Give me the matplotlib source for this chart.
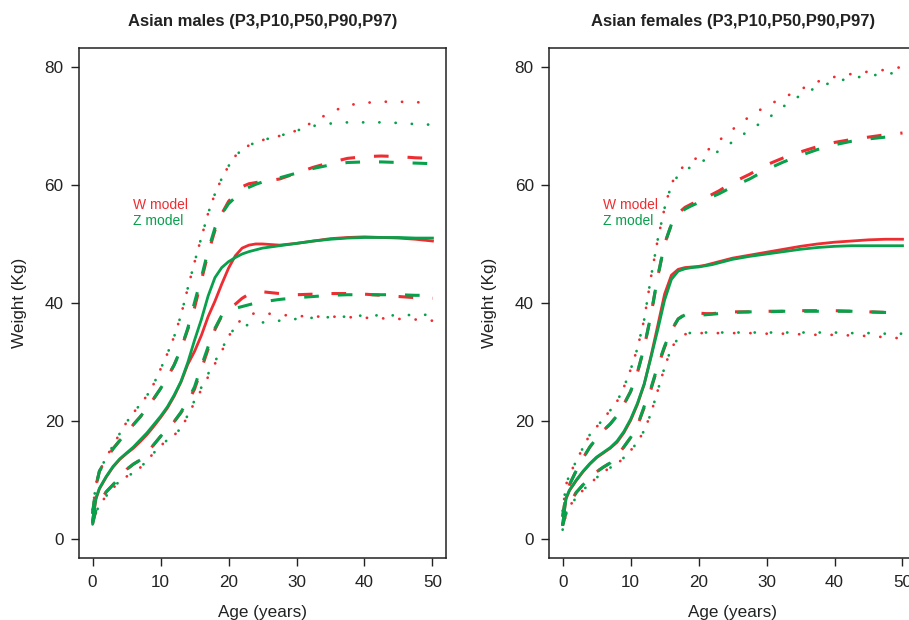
import matplotlib
matplotlib.use("Agg")
import matplotlib.pyplot as plt

plt.rcParams['font.family'] = ['Liberation Sans', 'DejaVu Sans']

ages = [0, 0.5, 1, 2, 3, 4, 5, 6, 7, 8, 9, 10, 11, 12, 13, 14, 15, 16, 17, 18, 19,
        20, 21, 22, 23, 24, 25, 27.5, 30, 32.5, 35, 37.5, 40, 42.5, 45, 47.5, 50]

# ---- Asian males ----
m_w_p3 = [2.5, 4.5, 5.8, 7.3, 8.6, 9.9, 10.6, 11.2, 12.1, 13.3, 14.6, 15.8, 16.8, 17.6, 18.8, 20.8, 23.2, 25.3, 27.5, 29.7, 31.8,
          34.3, 36.2, 37.3, 38.0, 38.3, 38.3, 38.0, 37.8, 37.7, 37.7, 37.6, 37.5, 37.4, 37.3, 37.2, 37.0]
m_z_p3 = [2.5, 4.5, 5.8, 7.3, 8.6, 9.9, 10.6, 11.2, 12.1, 13.3, 14.6, 15.8, 16.8, 17.6, 18.8, 21.0, 23.5, 25.7, 28.0, 30.1, 32.1,
          34.5, 35.8, 36.1, 36.3, 36.6, 36.7, 37.0, 37.3, 37.5, 37.6, 37.7, 37.9, 37.9, 37.9, 38.0, 38.0]
m_w_p10 = [2.6, 5.0, 6.3, 8.0, 9.2, 10.5, 11.8, 12.7, 13.4, 14.6, 16.0, 17.4, 18.7, 19.9, 21.4, 23.2, 25.4, 28.8, 32.2, 35.5, 37.8,
           39.0, 39.8, 40.8, 41.5, 41.8, 41.9, 41.6, 41.4, 41.5, 41.6, 41.6, 41.5, 41.3, 41.1, 40.9, 40.8]
m_z_p10 = [2.6, 5.0, 6.3, 8.0, 9.2, 10.5, 11.8, 12.7, 13.4, 14.6, 16.0, 17.4, 18.7, 19.9, 21.5, 23.5, 25.8, 29.3, 32.6, 35.7, 37.9,
           38.9, 39.1, 39.4, 39.7, 40.0, 40.2, 40.6, 40.9, 41.1, 41.3, 41.4, 41.4, 41.4, 41.4, 41.3, 41.3]
m_w_p50 = [3.0, 6.8, 8.5, 10.5, 12.2, 13.5, 14.5, 15.4, 16.5, 17.7, 19.1, 20.6, 22.2, 24.2, 26.6, 29.6, 31.8, 34.5, 37.7, 40.3, 43.2,
           45.9, 48.0, 49.3, 49.8, 50.0, 50.0, 49.8, 50.1, 50.5, 50.9, 51.1, 51.2, 51.1, 51.0, 50.8, 50.5]
m_z_p50 = [3.3, 7.0, 8.6, 10.6, 12.3, 13.6, 14.6, 15.6, 16.8, 18.0, 19.4, 20.8, 22.4, 24.4, 26.7, 29.9, 33.7, 37.2, 41.2, 44.3, 46.0,
           47.0, 47.7, 48.3, 48.7, 49.0, 49.3, 49.7, 50.1, 50.5, 50.8, 51.0, 51.1, 51.1, 51.1, 51.0, 51.0]
m_w_p90 = [4.3, 9.0, 11.5, 13.5, 15.3, 16.7, 18.0, 19.4, 20.7, 22.2, 23.8, 25.5, 27.4, 29.5, 32.2, 35.5, 39.2, 43.8, 48.4, 52.3, 55.1,
           57.2, 58.5, 59.7, 60.2, 60.4, 60.6, 61.0, 62.0, 63.0, 63.8, 64.5, 64.8, 64.9, 64.8, 64.6, 64.5]
m_z_p90 = [4.3, 9.0, 11.5, 13.5, 15.3, 16.7, 18.0, 19.4, 20.7, 22.2, 23.8, 25.5, 27.4, 29.5, 32.2, 35.7, 40.1, 44.3, 48.9, 52.7, 55.1,
           56.8, 57.9, 59.0, 59.6, 60.1, 60.5, 61.2, 62.0, 62.8, 63.4, 63.8, 63.9, 63.9, 63.8, 63.7, 63.6]
m_w_p97 = [5.0, 9.3, 11.4, 13.9, 15.8, 17.9, 19.8, 21.4, 22.8, 24.3, 26.3, 28.8, 31.4, 34.3, 37.9, 42.5, 46.9, 51.1, 55.2, 58.5, 61.1,
           63.2, 64.9, 66.0, 66.7, 67.2, 67.6, 68.3, 69.2, 70.7, 72.3, 73.5, 73.9, 74.1, 74.1, 74.0, 74.0]
m_z_p97 = [5.0, 9.3, 11.4, 13.9, 15.8, 17.9, 19.8, 21.4, 22.8, 24.3, 26.3, 28.8, 31.4, 34.3, 37.9, 42.5, 46.9, 51.1, 55.2, 58.5, 61.1,
           63.2, 64.9, 66.0, 66.7, 67.2, 67.6, 68.3, 69.2, 70.0, 70.4, 70.6, 70.6, 70.6, 70.5, 70.3, 70.2]

# ---- Asian females ----
f_w_p3 = [1.6, 4.2, 5.6, 7.0, 8.3, 9.4, 10.4, 11.4, 12.1, 12.7, 13.8, 15.0, 16.4, 18.4, 21.3, 25.2, 29.1, 32.4, 34.0, 34.7, 34.9,
          34.9, 34.9, 34.9, 34.9, 34.9, 34.9, 34.9, 34.8, 34.8, 34.7, 34.6, 34.6, 34.5, 34.4, 34.2, 34.0]
f_z_p3 = [1.6, 4.2, 5.6, 7.0, 8.3, 9.4, 10.4, 11.4, 12.1, 12.7, 13.8, 15.0, 16.4, 18.4, 21.3, 25.2, 29.1, 32.4, 34.0, 34.7, 35.0,
          35.0, 35.0, 35.0, 35.0, 35.0, 35.0, 35.0, 35.0, 35.0, 35.0, 35.0, 35.0, 34.9, 34.9, 34.8, 34.8]
f_w_p10 = [2.3, 4.6, 6.0, 7.9, 9.2, 10.3, 11.4, 12.2, 12.9, 14.1, 15.6, 17.2, 19.2, 22.3, 25.4, 29.2, 32.5, 35.3, 37.3, 38.1, 38.3,
           38.3, 38.2, 38.2, 38.3, 38.4, 38.5, 38.5, 38.6, 38.6, 38.7, 38.7, 38.7, 38.6, 38.5, 38.4, 38.3]
f_z_p10 = [2.3, 4.6, 6.0, 7.9, 9.2, 10.3, 11.4, 12.2, 12.9, 14.1, 15.6, 17.2, 19.2, 22.5, 25.6, 29.4, 32.7, 35.4, 37.3, 38.0, 38.2,
           38.0, 38.0, 38.1, 38.2, 38.3, 38.4, 38.5, 38.5, 38.6, 38.6, 38.6, 38.6, 38.6, 38.5, 38.4, 38.3]
f_w_p50 = [2.5, 6.8, 8.2, 9.9, 11.4, 12.7, 13.8, 14.6, 15.4, 16.4, 18.0, 20.1, 22.8, 26.2, 31.0, 36.2, 41.5, 44.7, 45.7, 46.0, 46.1,
           46.2, 46.4, 46.7, 47.0, 47.3, 47.6, 48.1, 48.6, 49.1, 49.6, 50.0, 50.3, 50.5, 50.7, 50.8, 50.8]
f_z_p50 = [2.5, 7.0, 8.3, 10.0, 11.5, 12.8, 13.9, 14.7, 15.5, 16.6, 18.2, 20.3, 23.0, 26.3, 30.8, 35.5, 40.5, 44.0, 45.4, 45.8, 46.0,
           46.1, 46.3, 46.5, 46.8, 47.1, 47.4, 47.9, 48.3, 48.7, 49.1, 49.4, 49.6, 49.7, 49.7, 49.7, 49.7]
f_w_p90 = [3.8, 7.5, 9.2, 11.6, 13.7, 15.6, 17.1, 18.4, 19.5, 20.9, 22.8, 25.0, 28.2, 32.5, 38.0, 44.5, 50.0, 53.3, 55.2, 56.2, 56.8,
           57.3, 57.8, 58.4, 59.0, 59.7, 60.4, 61.8, 63.4, 64.6, 65.6, 66.5, 67.2, 67.7, 68.1, 68.5, 68.8]
f_z_p90 = [3.8, 7.5, 9.2, 11.6, 13.7, 15.6, 17.1, 18.4, 19.5, 20.9, 22.8, 25.0, 28.2, 32.5, 38.0, 44.5, 50.0, 53.3, 55.0, 55.9, 56.5,
           57.0, 57.5, 58.0, 58.5, 59.1, 59.7, 61.0, 62.6, 63.9, 65.0, 66.0, 66.8, 67.4, 67.8, 68.1, 68.3]
f_w_p97 = [4.8, 9.2, 10.9, 13.2, 15.5, 17.7, 19.0, 20.4, 21.8, 23.3, 25.7, 28.7, 32.3, 37.2, 44.4, 50.8, 56.1, 60.2, 62.2, 63.4, 64.0,
           64.8, 65.6, 66.5, 67.5, 68.5, 69.4, 71.6, 73.4, 74.8, 76.2, 77.5, 78.3, 78.8, 79.2, 79.5, 80.0]
f_z_p97 = [4.8, 9.2, 10.9, 13.2, 15.5, 17.7, 19.0, 20.4, 21.8, 23.3, 25.7, 28.7, 32.3, 37.2, 44.4, 50.8, 56.1, 60.0, 61.6, 62.5, 63.1,
           63.6, 64.3, 65.0, 65.8, 66.5, 67.3, 69.3, 71.1, 73.3, 75.2, 76.6, 77.5, 78.1, 78.5, 78.8, 79.1]

RED = '#ED2D31'
GREEN = '#07A04B'
INK = '#222222'

# line look per percentile; red dotted lines get a phase shift so both dot rows show
dot = dict(lw=2.0, dash_capstyle='round')
dash = dict(lw=2.2, dash_capstyle='butt')
w_styles = {
    'p3': dict(ls=(1.6, (0.05, 5.8)), **dot),
    'p10': dict(ls=(0.6, (4.8, 6.2)), **dash),
    'p50': dict(lw=2.0, ls='-'),
    'p90': dict(ls=(0.6, (4.8, 6.2)), **dash),
    'p97': dict(ls=(1.6, (0.05, 5.8)), **dot),
}
z_styles = {
    'p3': dict(ls=(0, (0.05, 5.8)), **dot),
    'p10': dict(ls=(0, (4.8, 6.2)), **dash),
    'p50': dict(lw=2.0, ls='-'),
    'p90': dict(ls=(0, (4.8, 6.2)), **dash),
    'p97': dict(ls=(0, (0.05, 5.8)), **dot),
}


def draw_panel(ax, title, w_series, z_series):
    for key, vals in w_series.items():
        ax.plot(ages, vals, color=RED, **w_styles[key])
    for key, vals in z_series.items():
        ax.plot(ages, vals, color=GREEN, **z_styles[key])

    ax.set_xlim(-2, 52)
    ax.set_ylim(-3.2, 83.2)
    ax.set_xticks([0, 10, 20, 30, 40, 50])
    ax.set_yticks([0, 20, 40, 60, 80])
    ax.tick_params(direction='out', length=6, width=1.0, colors=INK,
                   labelsize=12.3, pad=5)
    ax.tick_params(axis='x', pad=6)
    for sp in ax.spines.values():
        sp.set_linewidth(1.1)
        sp.set_color(INK)

    ax.text(0.5, 1.052, title, transform=ax.transAxes, ha='center',
            va='center', fontsize=12, fontweight='bold', color=INK)
    ax.text(0.5, -0.115, 'Age (years)', transform=ax.transAxes, ha='center',
            va='baseline', fontsize=12.3, color=INK)
    ax.text(-0.163, 0.5, 'Weight (Kg)', transform=ax.transAxes, ha='center',
            va='center', rotation=90, fontsize=12.3, color=INK)

    ax.text(5.9, 56.0, 'W model', color=RED, fontsize=10, va='baseline')
    ax.text(5.9, 53.2, 'Z model', color=GREEN, fontsize=10, va='baseline')


fig = plt.figure(figsize=(9.09, 6.2), dpi=100)
ax1 = fig.add_axes([0.0869, 0.10, 0.4038, 0.8226])
ax2 = fig.add_axes([0.604, 0.10, 0.4038, 0.8226])

draw_panel(ax1, 'Asian males (P3,P10,P50,P90,P97)',
           {'p3': m_w_p3, 'p10': m_w_p10, 'p50': m_w_p50, 'p90': m_w_p90, 'p97': m_w_p97},
           {'p3': m_z_p3, 'p10': m_z_p10, 'p50': m_z_p50, 'p90': m_z_p90, 'p97': m_z_p97})
draw_panel(ax2, 'Asian females (P3,P10,P50,P90,P97)',
           {'p3': f_w_p3, 'p10': f_w_p10, 'p50': f_w_p50, 'p90': f_w_p90, 'p97': f_w_p97},
           {'p3': f_z_p3, 'p10': f_z_p10, 'p50': f_z_p50, 'p90': f_z_p90, 'p97': f_z_p97})

fig.savefig('out.png', dpi=100)
